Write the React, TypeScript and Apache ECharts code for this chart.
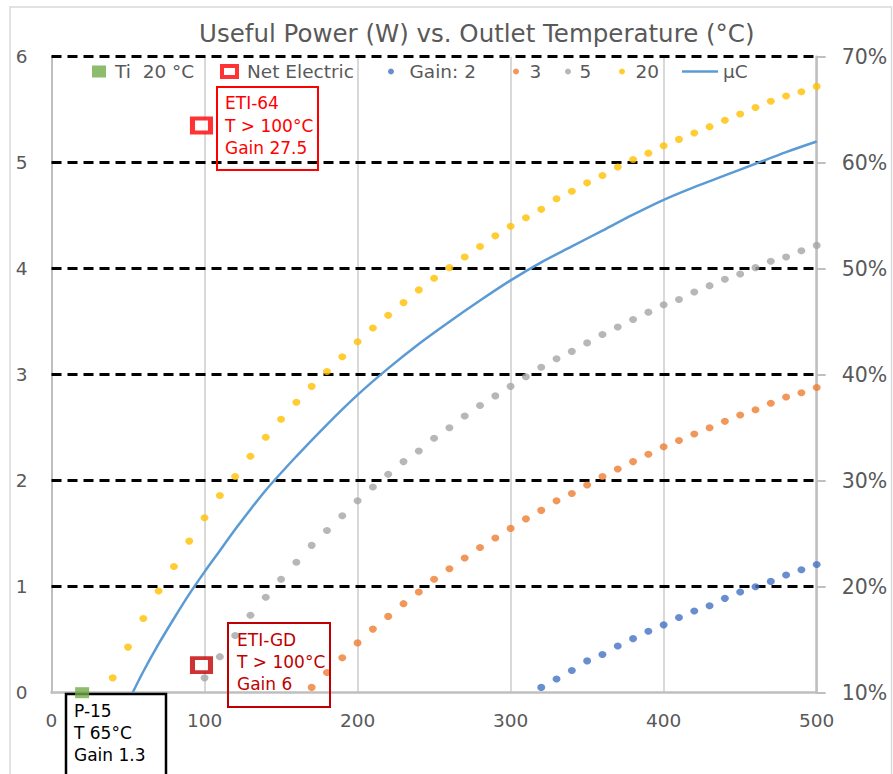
import { useEffect, useRef } from "react";
import * as echarts from "echarts";

// Outlet temperatures (°C) for the dotted "Gain" series
const temps = [40, 50, 60, 70, 80, 90, 100, 110, 120, 130, 140, 150, 160, 170, 180, 190, 200, 210, 220, 230, 240, 250, 260, 270, 280, 290, 300, 310, 320, 330, 340, 350, 360, 370, 380, 390, 400, 410, 420, 430, 440, 450, 460, 470, 480, 490, 500];

// Useful power (W), left axis
const gain20Start = 40;
const gain20 = [0.14, 0.43, 0.70, 0.96, 1.19, 1.43, 1.65, 1.86, 2.04, 2.23, 2.41, 2.58, 2.74, 2.89, 3.03, 3.17, 3.31, 3.44, 3.56, 3.68, 3.80, 3.91, 4.01, 4.11, 4.21, 4.31, 4.40, 4.48, 4.56, 4.66, 4.73, 4.81, 4.88, 4.96, 5.03, 5.09, 5.16, 5.22, 5.28, 5.34, 5.40, 5.46, 5.52, 5.58, 5.63, 5.67, 5.72];
const gain5Start = 100;
const gain5 = [0.14, 0.34, 0.54, 0.73, 0.90, 1.07, 1.23, 1.39, 1.53, 1.67, 1.81, 1.94, 2.06, 2.18, 2.28, 2.40, 2.50, 2.61, 2.71, 2.80, 2.89, 2.98, 3.07, 3.15, 3.22, 3.30, 3.38, 3.45, 3.52, 3.59, 3.66, 3.71, 3.78, 3.84, 3.90, 3.95, 4.01, 4.07, 4.11, 4.17, 4.22];
const gain3Start = 170;
const gain3 = [0.05, 0.19, 0.33, 0.47, 0.60, 0.72, 0.84, 0.95, 1.07, 1.17, 1.27, 1.37, 1.46, 1.55, 1.64, 1.72, 1.81, 1.88, 1.96, 2.04, 2.11, 2.18, 2.25, 2.32, 2.38, 2.44, 2.50, 2.56, 2.62, 2.67, 2.73, 2.79, 2.83, 2.88];
const gain2Start = 320;
const gain2 = [0.05, 0.13, 0.21, 0.30, 0.36, 0.44, 0.51, 0.58, 0.64, 0.71, 0.77, 0.82, 0.89, 0.95, 1.00, 1.05, 1.11, 1.16, 1.21];

// μC efficiency (%), right axis
const muCTemps = [53, 60, 70, 80, 90, 100, 110, 120, 140, 160, 180, 200, 220, 240, 260, 280, 300, 320, 340, 360, 380, 400, 420, 440, 460, 480, 500];
const muCValues = [10.0, 12.0, 14.6, 17.0, 19.3, 21.4, 23.4, 25.4, 29.1, 32.3, 35.3, 38.1, 40.6, 42.9, 45.0, 47.0, 48.9, 50.6, 52.1, 53.6, 55.1, 56.5, 57.7, 58.8, 59.9, 61.0, 62.0];

// Single points
const tiPoint = [20, 0];
const netElectricPoints = [
  [98, 5.35],
  [98, 0.26],
];
const netElectricColors = ["#FF0000", "#C00000"];

// Dashed horizontal reference levels (W)
const gridLevels = [1, 2, 3, 4, 5, 6];

const title = "Useful Power (W) vs. Outlet Temperature (°C)";
const seriesNames = ["Ti  20 °C", "Net Electric", "Gain: 2", "3", "5", "20", "μC"];

const FONT = '"DejaVu Sans", sans-serif';
const GREY_TEXT = "#595959";

function pairs(start: number, vals: number[]) {
  const i0 = temps.indexOf(start);
  return vals.map((v, i) => [temps[i0 + i], v]);
}

function makeLegend(name: string, left: number, opts: any) {
  return {
    data: [{ name, ...(opts.item || {}) }],
    left,
    top: 62,
    padding: 0,
    orient: "horizontal",
    selectedMode: false,
    itemWidth: opts.w,
    itemHeight: opts.h,
    textStyle: {
      color: GREY_TEXT,
      fontFamily: FONT,
      fontSize: 18.5,
      padding: [0, 0, 0, opts.pad || 0],
    },
  };
}

export default function App() {
  const ref = useRef<HTMLDivElement>(null);

  useEffect(() => {
    if (!ref.current) return;
    const chart = echarts.init(ref.current, undefined, { renderer: "svg" });

    const textLine = (text: string, x: number, y: number, color: string) => ({
      type: "text",
      x,
      y,
      z: 20,
      silent: true,
      style: {
        text,
        fill: color,
        fontFamily: FONT,
        fontSize: 17,
        verticalAlign: "middle",
        align: "left",
      },
    });

    const dot = [8, 7];

    const option: any = {
      animation: false,
      backgroundColor: "#ffffff",
      textStyle: { fontFamily: FONT },
      title: {
        text: title,
        left: 199,
        top: 21,
        padding: 0,
        textStyle: { color: GREY_TEXT, fontFamily: FONT, fontSize: 24.5, fontWeight: "normal" },
      },
      legend: [
        makeLegend(seriesNames[0], 92, { w: 14, h: 12, pad: 4, item: { icon: "rect" } }),
        makeLegend(seriesNames[1], 220, {
          w: 15,
          h: 11,
          pad: 5,
          item: { icon: "rect", itemStyle: { color: "#ffffff", borderColor: "#FF0000", borderWidth: 4 } },
        }),
        makeLegend(seriesNames[2], 388, { w: 7, h: 6, pad: 10, item: { icon: "circle" } }),
        makeLegend(seriesNames[3], 513, { w: 7, h: 6, pad: 5, item: { icon: "circle" } }),
        makeLegend(seriesNames[4], 565, { w: 7, h: 6, pad: 3, item: { icon: "circle" } }),
        makeLegend(seriesNames[5], 619, { w: 7, h: 6, pad: 5, item: { icon: "circle" } }),
        makeLegend(seriesNames[6], 682, {
          w: 36,
          h: 12,
          pad: 0,
          item: { icon: "path://M0,0h36v2.5h-36z", itemStyle: { color: "#5B9BD5" } },
        }),
      ],
      grid: {
        left: 51.5,
        right: 76.3,
        top: 56.7,
        bottom: 81.3,
        containLabel: false,
        outerBoundsMode: "none",
      },
      xAxis: {
        type: "value",
        min: 0,
        max: 500,
        interval: 100,
        axisLine: { show: true, onZero: false, lineStyle: { color: "#BFBFBF", width: 2.5 } },
        axisTick: { show: false },
        axisLabel: { color: GREY_TEXT, fontFamily: FONT, fontSize: 18.5, margin: 18 },
        splitLine: { show: true, lineStyle: { color: "#D9D9D9", width: 2 } },
      },
      yAxis: [
        {
          type: "value",
          min: 0,
          max: 6,
          interval: 1,
          position: "left",
          axisLine: { show: true, lineStyle: { color: "#BFBFBF", width: 2 } },
          axisTick: { show: false },
          axisLabel: { color: GREY_TEXT, fontFamily: FONT, fontSize: 18.5, margin: 24 },
          splitLine: { show: false },
        },
        {
          type: "value",
          min: 10,
          max: 70,
          interval: 10,
          position: "right",
          axisLine: { show: true, lineStyle: { color: "#BFBFBF", width: 2.5 } },
          axisTick: { show: true, inside: false, length: 9, lineStyle: { color: "#BFBFBF", width: 2 } },
          axisLabel: { color: GREY_TEXT, fontFamily: FONT, fontSize: 20.5, margin: 25, formatter: "{value}%" },
          splitLine: { show: false },
        },
      ],
      series: [
        {
          name: seriesNames[0],
          type: "scatter",
          z: 6,
          symbol: "rect",
          symbolSize: [14, 11],
          clip: false,
          itemStyle: { color: "#70AD47" },
          data: [tiPoint],
          markLine: {
            silent: true,
            symbol: ["none", "none"],
            label: { show: false },
            z: 1,
            lineStyle: { color: "#000000", width: 3, type: [10, 6] },
            data: gridLevels.map((v) => ({ yAxis: v })),
          },
        },
        {
          name: seriesNames[1],
          type: "scatter",
          z: 5,
          symbol: "rect",
          symbolSize: [18, 14],
          itemStyle: { color: "#ffffff", borderColor: "#FF0000", borderWidth: 4 },
          data: netElectricPoints.map((p, i) => ({
            value: p,
            itemStyle: { color: "#ffffff", borderColor: netElectricColors[i], borderWidth: 4.5 },
          })),
        },
        {
          name: seriesNames[2],
          type: "scatter",
          z: 3,
          symbol: "circle",
          symbolSize: dot,
          itemStyle: { color: "#4472C4" },
          data: pairs(gain2Start, gain2),
        },
        {
          name: seriesNames[3],
          type: "scatter",
          z: 3,
          symbol: "circle",
          symbolSize: dot,
          itemStyle: { color: "#ED7D31" },
          data: pairs(gain3Start, gain3),
        },
        {
          name: seriesNames[4],
          type: "scatter",
          z: 3,
          symbol: "circle",
          symbolSize: dot,
          itemStyle: { color: "#A5A5A5" },
          data: pairs(gain5Start, gain5),
        },
        {
          name: seriesNames[5],
          type: "scatter",
          z: 3,
          symbol: "circle",
          symbolSize: dot,
          itemStyle: { color: "#FFC000" },
          data: pairs(gain20Start, gain20),
        },
        {
          name: seriesNames[6],
          type: "line",
          z: 3,
          yAxisIndex: 1,
          symbol: "none",
          smooth: 0.3,
          lineStyle: { color: "#5B9BD5", width: 2.5 },
          itemStyle: { color: "#5B9BD5" },
          data: muCTemps.map((t, i) => [t, muCValues[i]]),
        },
      ],
      graphic: [
        {
          type: "rect",
          silent: true,
          z: 0,
          shape: { x: 10, y: 7, width: 881.5, height: 790 },
          style: { fill: "none", stroke: "#D9D9D9", lineWidth: 1.5 },
        },
        // ETI-64 annotation
        {
          type: "rect",
          silent: true,
          z: 10,
          shape: { x: 217, y: 87, width: 101, height: 83 },
          style: { fill: "none", stroke: "#FF0000", lineWidth: 2 },
        },
        textLine("ETI-64", 225, 103, "#FF0000"),
        textLine("T > 100°C", 225, 126, "#FF0000"),
        textLine("Gain 27.5", 225, 148, "#FF0000"),
        // ETI-GD annotation
        {
          type: "rect",
          silent: true,
          z: 10,
          shape: { x: 228, y: 623, width: 102, height: 84 },
          style: { fill: "none", stroke: "#C00000", lineWidth: 2 },
        },
        textLine("ETI-GD", 237, 640, "#C00000"),
        textLine("T > 100°C", 237, 662, "#C00000"),
        textLine("Gain 6", 237, 684, "#C00000"),
        // P-15 annotation
        {
          type: "rect",
          silent: true,
          z: 1,
          shape: { x: 66, y: 694, width: 100, height: 95 },
          style: { fill: "#ffffff", stroke: "#000000", lineWidth: 2.5 },
        },
        textLine("P-15", 74, 711, "#000000"),
        textLine("T 65°C", 74, 733, "#000000"),
        textLine("Gain 1.3", 74, 755, "#000000"),
      ],
    };

    chart.setOption(option);
    return () => {
      chart.dispose();
    };
  }, []);

  return (
    <div
      ref={ref}
      style={{ position: "absolute", left: 0, top: 0, width: 893, height: 774, background: "#ffffff" }}
    />
  );
}
